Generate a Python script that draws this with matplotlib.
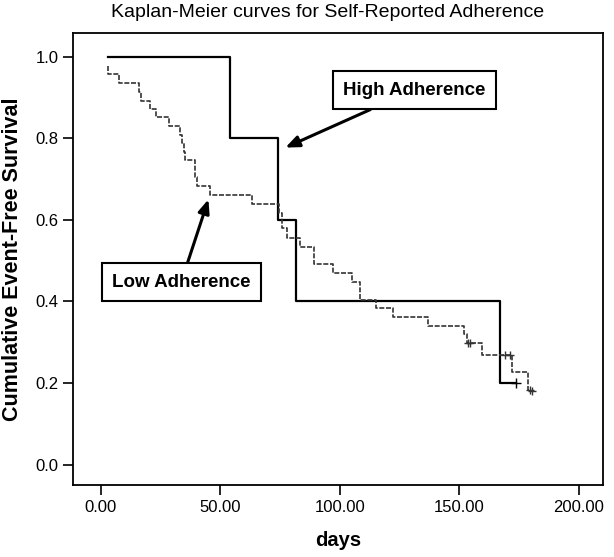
import matplotlib
matplotlib.use("Agg")
import matplotlib.pyplot as plt

plt.rcParams["font.family"] = ["Liberation Sans", "DejaVu Sans"]

# High adherence group: step times (days) and survival after each step
high_days = [2.9, 54.0, 74.0, 81.5, 166.8, 173.8]
high_surv = [1.0, 0.8, 0.6, 0.4, 0.2, 0.2]
high_cens_days = [173.8]
high_cens_surv = [0.2]

# Low adherence group
low_days = [2.9, 3.2, 7.8, 16.0, 16.9, 20.6, 23.0, 28.6, 33.2, 33.9, 34.6, 35.3,
            39.2, 40.2, 45.7, 63.2, 74.5, 75.7, 78.0, 83.4, 89.2, 97.3, 105.0,
            108.2, 115.2, 122.4, 137.0, 152.0, 153.0, 159.4, 172.0, 178.5, 180.0]
low_surv = [0.978, 0.957, 0.936, 0.914, 0.891, 0.871, 0.851, 0.830, 0.808, 0.788,
            0.767, 0.747, 0.706, 0.683, 0.661, 0.639, 0.617, 0.579, 0.555, 0.533,
            0.491, 0.469, 0.447, 0.404, 0.383, 0.363, 0.341, 0.320, 0.299, 0.269,
            0.226, 0.183, 0.183]
low_cens_days = [153.5, 154.5, 169.0, 171.0, 179.5, 180.3]
low_cens_surv = [0.299, 0.299, 0.269, 0.269, 0.183, 0.180]

x_ticks = [0, 50, 100, 150, 200]
y_ticks = [0.0, 0.2, 0.4, 0.6, 0.8, 1.0]

fig = plt.figure(figsize=(6.14, 5.57), dpi=100)
ax = fig.add_axes([0.119, 0.129, 0.863, 0.812])

ax.step(high_days, high_surv, where="post", color="black", lw=1.6)
ax.plot(high_cens_days, high_cens_surv, "+", color="black", ms=7, mew=1.0)
ax.step(low_days, low_surv, where="post", color="#333333", lw=1.2,
        linestyle=(0, (3, 1)))
ax.plot(low_cens_days, low_cens_surv, "+", color="#333333", ms=6, mew=1.0)

ax.set_xlim(-11.6, 210)
ax.set_ylim(-0.05, 1.058)
ax.set_xticks(x_ticks)
ax.set_xticklabels([f"{t:.2f}" for t in x_ticks])
ax.set_yticks(y_ticks)
ax.set_yticklabels([f"{t:.1f}" for t in y_ticks])
ax.tick_params(direction="out", length=7, width=1.2, labelsize=12)
for s in ax.spines.values():
    s.set_linewidth(1.3)

ax.set_xlabel("days", fontsize=14.5, fontweight="bold", labelpad=12)
ax.set_ylabel("Cumulative Event-Free Survival", fontsize=15.5, fontweight="bold",
              labelpad=9)
fig.text(0.533, 0.977, "Kaplan-Meier curves for Self-Reported Adherence",
         ha="center", va="center", fontsize=14)

box = dict(boxstyle="square,pad=0.55", fc="white", ec="black", lw=1.5)
arrow = dict(arrowstyle="-|>,head_length=0.6,head_width=0.25", color="black",
             lw=2.2, shrinkA=0, shrinkB=0)
ax.annotate("High Adherence", xy=(77.2, 0.777), xytext=(131, 0.918),
            fontsize=13.5, fontweight="bold", ha="center", va="center",
            bbox=box, arrowprops=arrow)
ax.annotate("Low Adherence", xy=(45.0, 0.65), xytext=(33.6, 0.447),
            fontsize=13.5, fontweight="bold", ha="center", va="center",
            bbox=box, arrowprops=arrow)

fig.savefig("out.png", dpi=100)
